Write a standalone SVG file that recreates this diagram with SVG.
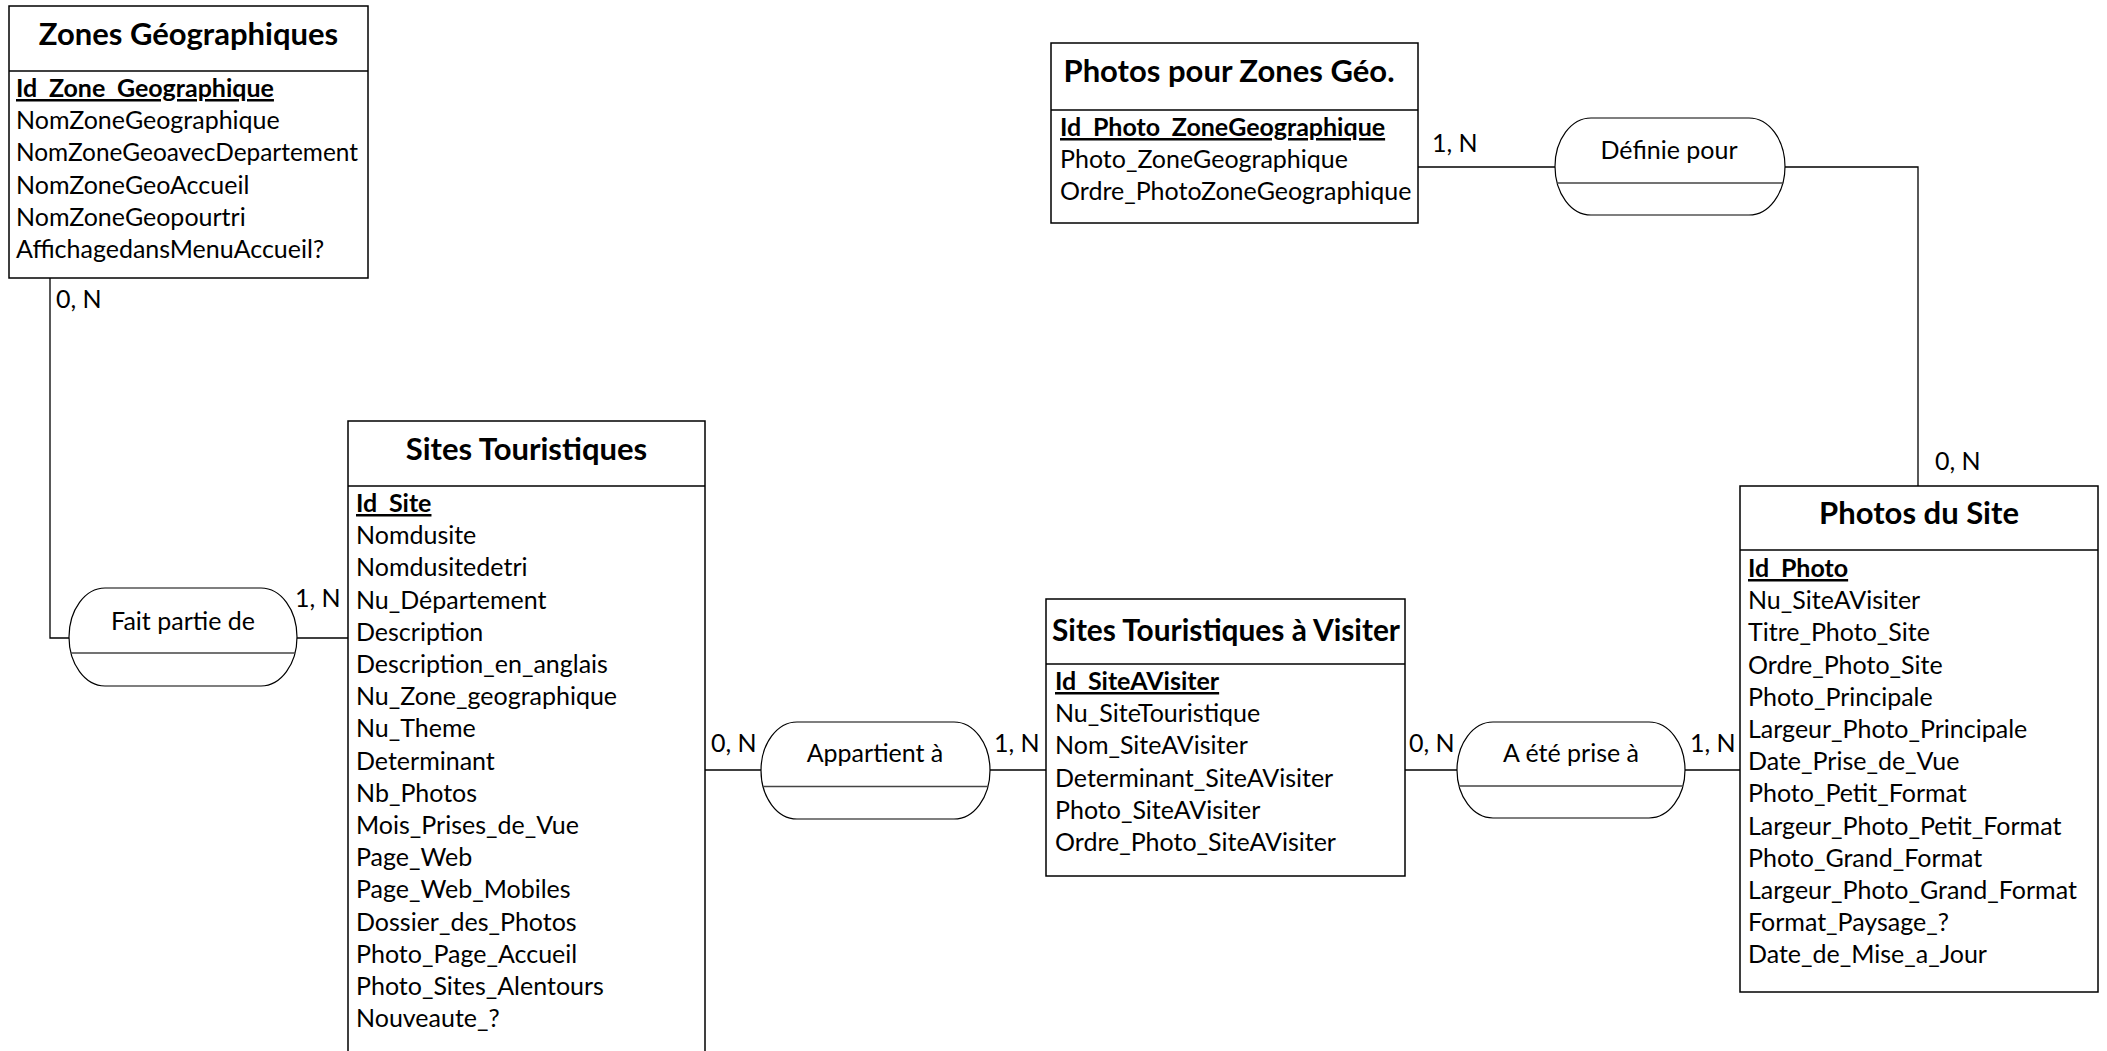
<svg xmlns="http://www.w3.org/2000/svg" width="2107" height="1051" viewBox="0 0 2107 1051">
<style>
.box{fill:#fff;stroke:#000;stroke-width:1.5}
.div{stroke:#000;stroke-width:1.5}
.rel{fill:#fff;stroke:#000;stroke-width:1.2}
.rdiv{stroke:#444;stroke-width:1.5}
.con{fill:none;stroke:#000;stroke-width:1.3}
text{font-family:Lato,"Liberation Sans",sans-serif;fill:#000}
.title{font-size:31px;font-weight:bold;text-anchor:middle}
.attr{font-size:25px}
.key{font-size:25px;font-weight:bold;text-decoration:underline}
.rlab{font-size:25px;text-anchor:middle}
.card{font-size:25px}
</style>
<rect width="2107" height="1051" fill="#fff"/>
<g id="connectors">
<path class="con" d="M50 278 V638 H69"/>
<path class="con" d="M297 638 H348"/>
<path class="con" d="M705 770 H761"/>
<path class="con" d="M990 770 H1046"/>
<path class="con" d="M1405 770 H1457"/>
<path class="con" d="M1685 770 H1740"/>
<path class="con" d="M1418 167 H1555"/>
<path class="con" d="M1785 167 H1918 V486"/>
<text class="card" x="56" y="308">0, N</text>
<text class="card" x="295" y="607">1, N</text>
<text class="card" x="711" y="752">0, N</text>
<text class="card" x="994" y="752">1, N</text>
<text class="card" x="1409" y="752">0, N</text>
<text class="card" x="1690" y="752">1, N</text>
<text class="card" x="1432" y="152">1, N</text>
<text class="card" x="1935" y="470">0, N</text>
</g>
<g id="zones-geographiques">
<rect class="box" x="9" y="6" width="359" height="272"/>
<line class="div" x1="9" y1="71" x2="368" y2="71"/>
<text class="title" x="188.5" y="45">Zones Géographiques</text>
<text class="key" x="16" y="97">Id_Zone_Geographique</text>
<text class="attr" x="16" y="129.2">NomZoneGeographique</text>
<text class="attr" x="16" y="161.4" textLength="342" lengthAdjust="spacingAndGlyphs">NomZoneGeoavecDepartement</text>
<text class="attr" x="16" y="193.6">NomZoneGeoAccueil</text>
<text class="attr" x="16" y="225.8">NomZoneGeopourtri</text>
<text class="attr" x="16" y="258">AffichagedansMenuAccueil?</text>
</g>
<g id="photos-zones-geo">
<rect class="box" x="1051" y="43" width="367" height="180"/>
<line class="div" x1="1051" y1="110" x2="1418" y2="110"/>
<text class="title" x="1229" y="82">Photos pour Zones Géo.</text>
<text class="key" x="1060" y="136">Id_Photo_ZoneGeographique</text>
<text class="attr" x="1060" y="168.2">Photo_ZoneGeographique</text>
<text class="attr" x="1060" y="200.4">Ordre_PhotoZoneGeographique</text>
</g>
<g id="sites-touristiques">
<rect class="box" x="348" y="421" width="357" height="660"/>
<line class="div" x1="348" y1="486" x2="705" y2="486"/>
<text class="title" x="526.5" y="460">Sites Touristiques</text>
<text class="key" x="356" y="512">Id_Site</text>
<text class="attr" x="356" y="544.2">Nomdusite</text>
<text class="attr" x="356" y="576.4">Nomdusitedetri</text>
<text class="attr" x="356" y="608.6">Nu_Département</text>
<text class="attr" x="356" y="640.8">Description</text>
<text class="attr" x="356" y="673">Description_en_anglais</text>
<text class="attr" x="356" y="705.2">Nu_Zone_geographique</text>
<text class="attr" x="356" y="737.4">Nu_Theme</text>
<text class="attr" x="356" y="769.6">Determinant</text>
<text class="attr" x="356" y="801.8">Nb_Photos</text>
<text class="attr" x="356" y="834">Mois_Prises_de_Vue</text>
<text class="attr" x="356" y="866.2">Page_Web</text>
<text class="attr" x="356" y="898.4">Page_Web_Mobiles</text>
<text class="attr" x="356" y="930.6">Dossier_des_Photos</text>
<text class="attr" x="356" y="962.8">Photo_Page_Accueil</text>
<text class="attr" x="356" y="995">Photo_Sites_Alentours</text>
<text class="attr" x="356" y="1027.2">Nouveaute_?</text>
</g>
<g id="sites-a-visiter">
<rect class="box" x="1046" y="599" width="359" height="277"/>
<line class="div" x1="1046" y1="664" x2="1405" y2="664"/>
<text class="title" x="1226" y="641" textLength="348" lengthAdjust="spacingAndGlyphs">Sites Touristiques à Visiter</text>
<text class="key" x="1055" y="690">Id_SiteAVisiter</text>
<text class="attr" x="1055" y="722.2">Nu_SiteTouristique</text>
<text class="attr" x="1055" y="754.4">Nom_SiteAVisiter</text>
<text class="attr" x="1055" y="786.6">Determinant_SiteAVisiter</text>
<text class="attr" x="1055" y="818.8">Photo_SiteAVisiter</text>
<text class="attr" x="1055" y="851">Ordre_Photo_SiteAVisiter</text>
</g>
<g id="photos-du-site">
<rect class="box" x="1740" y="486" width="358" height="506"/>
<line class="div" x1="1740" y1="550" x2="2098" y2="550"/>
<text class="title" x="1919" y="524">Photos du Site</text>
<text class="key" x="1748" y="577">Id_Photo</text>
<text class="attr" x="1748" y="609.2">Nu_SiteAVisiter</text>
<text class="attr" x="1748" y="641.4">Titre_Photo_Site</text>
<text class="attr" x="1748" y="673.6">Ordre_Photo_Site</text>
<text class="attr" x="1748" y="705.8">Photo_Principale</text>
<text class="attr" x="1748" y="738">Largeur_Photo_Principale</text>
<text class="attr" x="1748" y="770.2">Date_Prise_de_Vue</text>
<text class="attr" x="1748" y="802.4">Photo_Petit_Format</text>
<text class="attr" x="1748" y="834.6">Largeur_Photo_Petit_Format</text>
<text class="attr" x="1748" y="866.8">Photo_Grand_Format</text>
<text class="attr" x="1748" y="899">Largeur_Photo_Grand_Format</text>
<text class="attr" x="1748" y="931.2">Format_Paysage_?</text>
<text class="attr" x="1748" y="963.4">Date_de_Mise_a_Jour</text>
</g>
<g id="fait-partie-de">
<rect class="rel" x="69" y="588" width="228" height="98" rx="36" ry="49"/>
<line class="rdiv" x1="71" y1="653" x2="295" y2="653"/>
<text class="rlab" x="183" y="630">Fait partie de</text>
</g>
<g id="appartient-a">
<rect class="rel" x="761" y="722" width="229" height="97" rx="36" ry="48.5"/>
<line class="rdiv" x1="763" y1="786.5" x2="988" y2="786.5"/>
<text class="rlab" x="875" y="762">Appartient à</text>
</g>
<g id="a-ete-prise-a">
<rect class="rel" x="1457" y="722" width="228" height="96" rx="36" ry="48"/>
<line class="rdiv" x1="1459" y1="786" x2="1683" y2="786"/>
<text class="rlab" x="1571" y="762">A été prise à</text>
</g>
<g id="definie-pour">
<rect class="rel" x="1555" y="118" width="230" height="97" rx="36" ry="48.5"/>
<line class="rdiv" x1="1557" y1="183" x2="1783" y2="183"/>
<text class="rlab" x="1669" y="159">Définie pour</text>
</g>
</svg>
